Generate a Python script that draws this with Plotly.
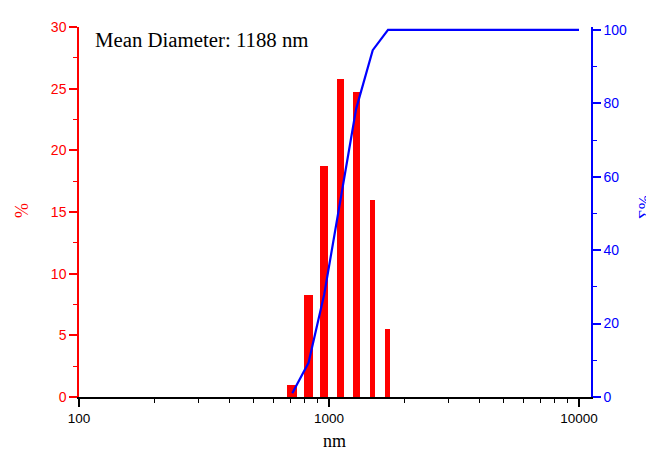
import numpy as np
import plotly.graph_objects as go

# ---- data ----
diameters_nm = [713, 828, 957, 1112, 1284, 1496, 1722]
percent = [1.0, 8.3, 18.7, 25.8, 24.7, 16.0, 5.5]
cum_x_end = 10000
x_tick_vals = [100, 1000, 10000]
x_tick_text = ["100", "1000", "10000"]
y_tick_vals = [0, 5, 10, 15, 20, 25, 30]
y2_tick_vals = [0, 20, 40, 60, 80, 100]
mean_diameter = 1188

# ---- styles ----
bar_widths_px = [10, 8.3, 8, 7, 7, 5.3, 5]
PX_PER_DECADE = 250.0
RED = "#FF0000"
BLUE = "#0000FF"

# bar widths in data units (log axis)
bar_widths = [x * (10 ** (p / PX_PER_DECADE / 2) - 10 ** (-p / PX_PER_DECADE / 2))
              for x, p in zip(diameters_nm, bar_widths_px)]

cum = list(np.cumsum(percent))
line_x = diameters_nm + [cum_x_end]
line_y = cum + [cum[-1]]

minor_x = [m * d for d in (100, 1000) for m in range(2, 10)]

fig = go.Figure()
fig.add_trace(go.Bar(x=diameters_nm, y=percent, width=bar_widths,
                     marker=dict(color=RED, line=dict(width=0)),
                     yaxis="y", showlegend=False))
fig.add_trace(go.Scatter(x=line_x, y=line_y, mode="lines",
                         line=dict(color=BLUE, width=2.2),
                         yaxis="y2", showlegend=False))

tickfont_family = "Liberation Sans, Arial, sans-serif"
serif = "Liberation Serif, Times New Roman, serif"

# page body has an 8px margin: compensate so the plot area sits at x 79-591, y 19-397
fig.update_layout(
    width=646, height=443,
    margin=dict(l=71, r=63, t=11, b=54),
    paper_bgcolor="white", plot_bgcolor="white",
    bargap=0,
    xaxis=dict(type="log", range=[2, 4.048], showgrid=False, zeroline=False,
               showline=True, linecolor="black", linewidth=1.5,
               ticks="outside", ticklen=8, tickwidth=1.5, tickcolor="black",
               tickmode="array", tickvals=x_tick_vals, ticktext=x_tick_text,
               tickfont=dict(family=tickfont_family, size=13.5, color="black"),
               minor=dict(tickmode="array", tickvals=minor_x, ticks="outside",
                          ticklen=4, tickwidth=1.2, tickcolor="black")),
    yaxis=dict(range=[0, 30], showgrid=False, zeroline=False,
               showline=True, linecolor=RED, linewidth=1.5,
               ticks="outside", ticklen=8, tickwidth=1.5, tickcolor=RED,
               tickmode="array", tickvals=y_tick_vals,
               tickfont=dict(family=tickfont_family, size=14, color=RED),
               minor=dict(dtick=2.5, ticks="outside", ticklen=4, tickwidth=1.2,
                          tickcolor=RED)),
    yaxis2=dict(range=[0, 100.8], overlaying="y", side="right", anchor="x",
                showgrid=False, zeroline=False,
                showline=True, linecolor=BLUE, linewidth=1.5,
                ticks="outside", ticklen=8, tickwidth=1.5, tickcolor=BLUE,
                tickmode="array", tickvals=y2_tick_vals,
                tickfont=dict(family=tickfont_family, size=14, color=BLUE),
                minor=dict(dtick=10, ticks="outside", ticklen=4, tickwidth=1.2,
                           tickcolor=BLUE)),
    annotations=[
        dict(text=f"Mean Diameter: {mean_diameter} nm", xref="paper", yref="paper",
             x=(93 - 79) / 512, y=0.965, xanchor="left", yanchor="middle", showarrow=False,
             font=dict(family=serif, size=20.8, color="black")),
        dict(text="nm", xref="paper", yref="paper", x=(334 - 79) / 512, y=(397 - 442) / 378,
             xanchor="center", yanchor="middle", showarrow=False,
             font=dict(family=serif, size=18, color="black")),
        dict(text="%", xref="paper", yref="paper", x=(22 - 79) / 512, y=(397 - 207) / 378,
             xanchor="center", yanchor="middle", showarrow=False, textangle=-90,
             font=dict(family=serif, size=18, color=RED)),
        dict(text="Σ%", xref="paper", yref="paper", x=(644 - 79) / 512, y=(397 - 203) / 378,
             xanchor="center", yanchor="middle", showarrow=False, textangle=-90,
             font=dict(family=serif, size=17, color=BLUE)),
    ],
)

fig.write_html("out.html")
